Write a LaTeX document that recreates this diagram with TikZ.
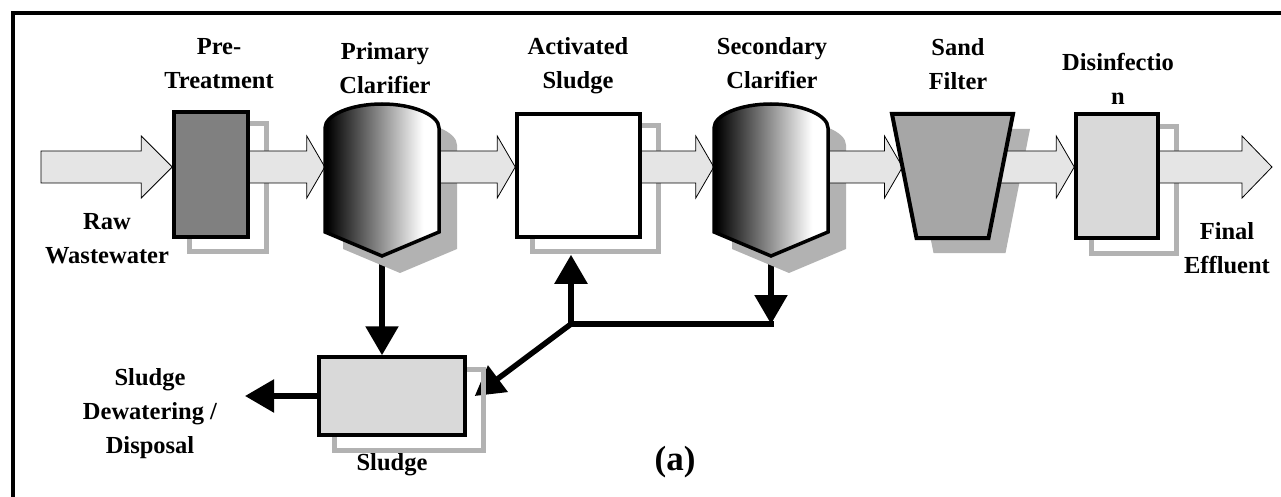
\documentclass[tikz,border=0pt]{standalone}
\usepackage{fontspec}
\setmainfont{Liberation Serif}
\usetikzlibrary{shapes.geometric, arrows.meta, positioning, calc, backgrounds}

% black to white, white reached before the right side
\pgfdeclarehorizontalshading{clarshade}{100bp}{color(0bp)=(black); color(26bp)=(black);
  color(68bp)=(white); color(100bp)=(white)}

% outline of a clarifier tank, around its centre
\newcommand{\clarpath}{(-57,-52) -- (-57,52) -- (0,76) -- (57,52) -- (57,-52)
  .. controls (57,-65) and (31,-76) .. (0,-76)
  .. controls (-31,-76) and (-57,-65) .. (-57,-52) -- cycle}
% outline of the sand filter, around its centre
\newcommand{\sandpath}{(-60.5,-62) -- (60.5,-62) -- (36,62) -- (-36,62) -- cycle}

% wide hollow process arrow: start, tip, head length
\newcommand{\flowarrow}[3]{%
  \draw[flow] let \p1=(#1), \p2=(#2) in
    (\x1,\y2+16pt) -- (\x2-#3,\y2+16pt) -- (\x2-#3,\y2+31pt) -- (\x2,\y2)
    -- (\x2-#3,\y2-31pt) -- (\x2-#3,\y2-16pt) -- (\x1,\y2-16pt) -- cycle;}

\begin{document}
\begin{tikzpicture}[x=1pt, y=-1pt,
  tank/.style={rectangle, draw, line width=3.5pt, inner sep=0pt},
  clarifier/.style={draw, line width=3.5pt, shading=clarshade},
  clarbody/.style={rectangle, draw=none, inner sep=0pt,
                   minimum width=114pt, minimum height=152pt},
  filterbox/.style={draw, line width=4pt, fill=black!35, line join=miter},
  filterbody/.style={rectangle, draw=none, inner sep=0pt,
                     minimum width=121pt, minimum height=124pt},
  shadowframe/.style={draw=black!30, line width=5pt},
  shadowfill/.style={fill=black!30},
  flow/.style={draw, line width=0.8pt, fill=black!10, line join=miter},
  recycle/.style={line width=5.5pt, -{Triangle[length=29pt, width=32pt]}},
  pipeline/.style={line width=5.5pt, line cap=rect},
  lbl/.style={font=\fontsize{24.5}{34}\selectfont\bfseries, align=center,
              inner sep=0pt, anchor=north}]

  \useasboundingbox (0,0) rectangle (1281,497);

  % ---- Frame ----
  \draw[line width=3.5pt] (13,497) -- (13,13) -- (1281,13);

  % ---- Process Units ----
  \node[tank, fill=black!50, minimum width=74pt, minimum height=125pt] (pre) at (211,174.5) {};
  \begin{scope}[shift={(382,180)}]
    \shade[clarifier] \clarpath;
    \node[clarbody] (pc) at (0,0) {};
  \end{scope}
  \node[tank, fill=white, minimum width=123pt, minimum height=123pt] (act) at (578.5,175.5) {};
  \begin{scope}[shift={(771,180)}]
    \shade[clarifier] \clarpath;
    \node[clarbody] (sc) at (0,0) {};
  \end{scope}
  \begin{scope}[shift={(952.5,176)}]
    \path[filterbox] \sandpath;
    \node[filterbody] (sand) at (0,0) {};
    \coordinate (sandin) at (-50,-9);
  \end{scope}
  \node[tank, fill=black!15, minimum width=82pt, minimum height=124pt] (dis) at (1117,176) {};
  \node[tank, fill=black!15, minimum width=146pt, minimum height=78pt] (sludge) at (392,396) {};

  \coordinate (inlet)   at (41,167);
  \coordinate (outlet)  at (1272,167);
  \coordinate (split)   at (571,324);
  \coordinate (dewater) at (245,396);

  % ---- Labels ----
  \node[lbl] (lpre)      at (219,38)  {Pre-\\Treatment};
  \node[lbl] (lpc)       at (385,42)  {Primary\\Clarifier};
  \node[lbl] (lact)      at (578,37)  {Activated\\Sludge};
  \node[lbl] (lsc)       at (772,37)  {Secondary\\Clarifier};
  \node[lbl] (lsand)     at (958,38)  {Sand\\Filter};
  \node[lbl] (ldis)      at (1118,53) {Disinfectio\\n};
  \node[lbl] (lraw)      at (107,213) {Raw\\Wastewater};
  \node[lbl] (lfinal)    at (1227,222) {Final\\Effluent};
  \node[lbl] (ldisposal) at (150,368) {Sludge\\Dewatering /\\Disposal};
  \node[lbl] (lsludge)   at (392,453) {Sludge};
  \node[font=\fontsize{35}{40}\selectfont\bfseries, inner sep=0pt] (lfig) at (675,462) {(a)};

  \begin{pgfonlayer}{background}
    % ---- Sludge Lines ----
    \draw[recycle] (pc.south) -- (pc.south |- sludge.north);
    \draw[recycle] (sc.south) -- (sc.south |- split);
    \draw[pipeline] (sc.south |- split) -- (split);
    \draw[recycle] (split) -- ($(split |- act.south)+(0,16)$);
    \draw[recycle] (split) -- ($(sludge.east)+(8,0)$);
    \draw[recycle] (sludge.west) -- (dewater);

    % ---- Shadows ----
    \draw[shadowframe] ($(pre.south west)+(17,13)$) rectangle ($(pre.north east)+(17,13)$);
    \draw[shadowframe] ($(act.south west)+(17,13)$) rectangle ($(act.north east)+(17,13)$);
    \draw[shadowframe] ($(dis.south west)+(17,14)$) rectangle ($(dis.north east)+(17,14)$);
    \draw[shadowframe] ($(sludge.south west)+(17,14)$) rectangle ($(sludge.north east)+(17,14)$);
    \fill[shadowfill, shift={($(pc)+(18,17)$)}] \clarpath;
    \fill[shadowfill, shift={($(sc)+(18,17)$)}] \clarpath;
    \fill[shadowfill, shift={($(sand)+(17,15)$)}] \sandpath;

    % ---- Main Flow ----
    \flowarrow{inlet}{pre.west |- inlet}{31pt}
    \flowarrow{pre.center}{pc.west |- inlet}{18pt}
    \flowarrow{pc.center}{act.west |- inlet}{18pt}
    \flowarrow{act.center}{sc.west |- inlet}{18pt}
    \flowarrow{sc.center}{sandin}{18pt}
    \flowarrow{sand.center}{dis.west |- inlet}{18pt}
    \flowarrow{dis.center}{outlet}{30pt}
  \end{pgfonlayer}

\end{tikzpicture}
\end{document}
